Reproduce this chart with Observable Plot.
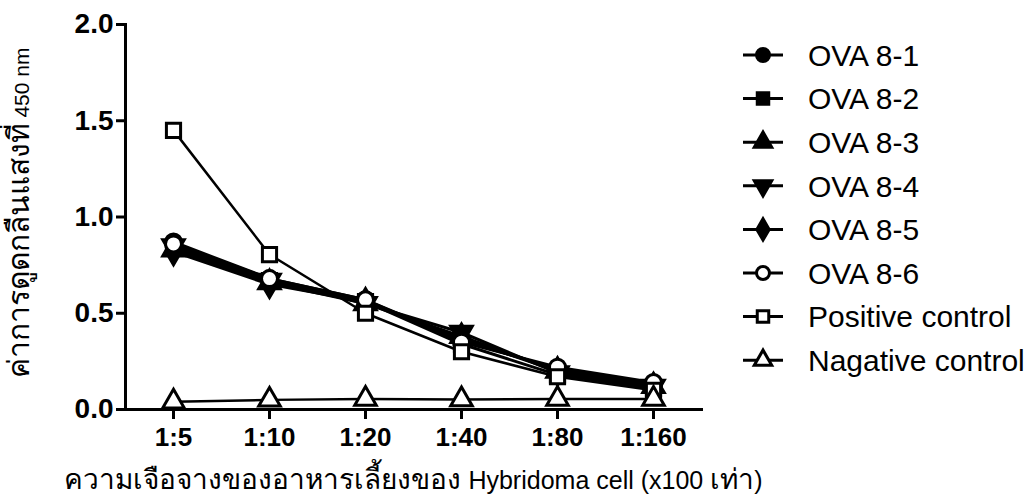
<!DOCTYPE html>
<html><head><meta charset="utf-8">
<script src="https://cdn.jsdelivr.net/npm/d3@7"></script>
<script src="https://cdn.jsdelivr.net/npm/@observablehq/plot@0.6"></script>
<style>
body{margin:0;background:#fff;}
#chart{width:1031px;height:503px;}
svg{font-family:"Liberation Sans",Arial,sans-serif;}
</style>
</head><body><div id="chart"></div>
<script>
// ---- data ----
const dilutions = ["1:5","1:10","1:20","1:40","1:80","1:160"];
const seriesNames = ["OVA 8-1","OVA 8-2","OVA 8-3","OVA 8-4","OVA 8-5","OVA 8-6","Positive control","Nagative control"];
const ova81 = [0.87,0.68,0.57,0.36,0.21,0.13];
const ova82 = [0.84,0.67,0.56,0.34,0.18,0.11];
const ova83 = [0.83,0.66,0.55,0.38,0.20,0.12];
const ova84 = [0.85,0.67,0.55,0.40,0.19,0.12];
const ova85 = [0.82,0.65,0.56,0.37,0.20,0.12];
const ova86 = [0.86,0.68,0.57,0.35,0.22,0.14];
const positive = [1.45,0.805,0.50,0.30,0.17,0.10];
const negative = [0.04,0.05,0.055,0.052,0.055,0.055];
const yTicks = [0,0.5,1.0,1.5,2.0];
const yLabel = "ค่าการดูดกลืนแสงที่ 450 nm";
const xLabel = "ความเจือจางของอาหารเลี้ยงของ Hybridoma cell (x100 เท่า)";

const seriesValues = [ova81,ova82,ova83,ova84,ova85,ova86,positive,negative];

// symbols
const sqrt3 = Math.sqrt(3);
const triangleDown = {draw(context,size){const y=-Math.sqrt(size/(sqrt3*3));context.moveTo(0,-y*2);context.lineTo(-sqrt3*y,y);context.lineTo(sqrt3*y,y);context.closePath();}};
const symbolTypes = [d3.symbolCircle,d3.symbolSquare,d3.symbolTriangle,triangleDown,d3.symbolDiamond,d3.symbolCircle,d3.symbolSquare,d3.symbolTriangle];
const fills = ["black","black","black","black","black","white","white","white"];
const widths = [3,3,3,3,3,3,2.5,2.5];

const rows = [];
seriesNames.forEach((s,i)=>seriesValues[i].forEach((v,j)=>rows.push({series:s,dilution:dilutions[j],value:v,idx:i})));

const symScale = {domain:seriesNames,range:symbolTypes};

function legend(index,scales,values,dims){
  const g = d3.create("svg:g");
  const x0 = 743, y0 = 55, step = 43.6;
  seriesNames.forEach((s,i)=>{
    const y = y0+i*step;
    g.append("line").attr("x1",x0).attr("x2",x0+40).attr("y1",y).attr("y2",y).attr("stroke","black").attr("stroke-width",3);
    g.append("path").attr("d",d3.symbol(symbolTypes[i],Math.PI*42)()).attr("transform",`translate(${x0+20},${y})`)
      .attr("fill",fills[i]).attr("stroke","black").attr("stroke-width",3);
    g.append("text").attr("x",808).attr("y",y).attr("dy","0.36em").attr("text-anchor","start")
      .attr("font-size",30).attr("fill","black").text(s);
  });
  return g.node();
}

const chart = Plot.plot({
  width:1031,height:503,
  marginLeft:125,marginRight:330,marginTop:24,marginBottom:94,
  x:{type:"point",domain:dilutions,padding:0.5},
  y:{domain:[0,2]},
  symbol:symScale,
  marks:[
    ...seriesNames.map((s,i)=>Plot.line(rows.filter(d=>d.idx===i),{x:"dilution",y:"value",stroke:"black",strokeWidth:widths[i]})),
    Plot.dot(rows,{x:"dilution",y:"value",symbol:"series",r:8,stroke:"black",strokeWidth:3,
      fill:d=>fills[d.idx]}),
    Plot.axisY({ticks:yTicks,tickFormat:d3.format(".1f"),tickSize:9,strokeWidth:3,fontSize:28,fontWeight:"bold",tickPadding:3,label:null}),
    Plot.axisX({tickSize:10,strokeWidth:3,fontSize:26,fontWeight:"bold",tickPadding:8,label:null}),
    Plot.frame({anchor:"left",strokeWidth:3}),
    Plot.frame({anchor:"bottom",strokeWidth:3}),
    Plot.text([yLabel],{frameAnchor:"left",textAnchor:"middle",rotate:-90,dx:-103,dy:-4,fontSize:20,text:d=>d}),
    Plot.text([xLabel],{frameAnchor:"bottom",textAnchor:"middle",dy:79,fontSize:26,text:d=>d}),
    legend
  ]
});
// Thai runs drawn larger than the Latin runs, as in the reference
function splitRuns(label, thaiSize, latinSize){
  d3.select(chart).selectAll("text").filter(function(){return this.textContent===label;}).each(function(){
    const t = d3.select(this);
    const parts = label.match(/[\u0E00-\u0E7F]+|[^\u0E00-\u0E7F]+/g);
    t.text(null);
    parts.forEach(p=>t.append("tspan").style("font-size",(/[\u0E00-\u0E7F]/.test(p)?thaiSize:latinSize)+"px").text(p));
  });
}
splitRuns(yLabel, 30, 21);
splitRuns(xLabel, 28, 25);
document.getElementById("chart").append(chart);
</script>
</body></html>
